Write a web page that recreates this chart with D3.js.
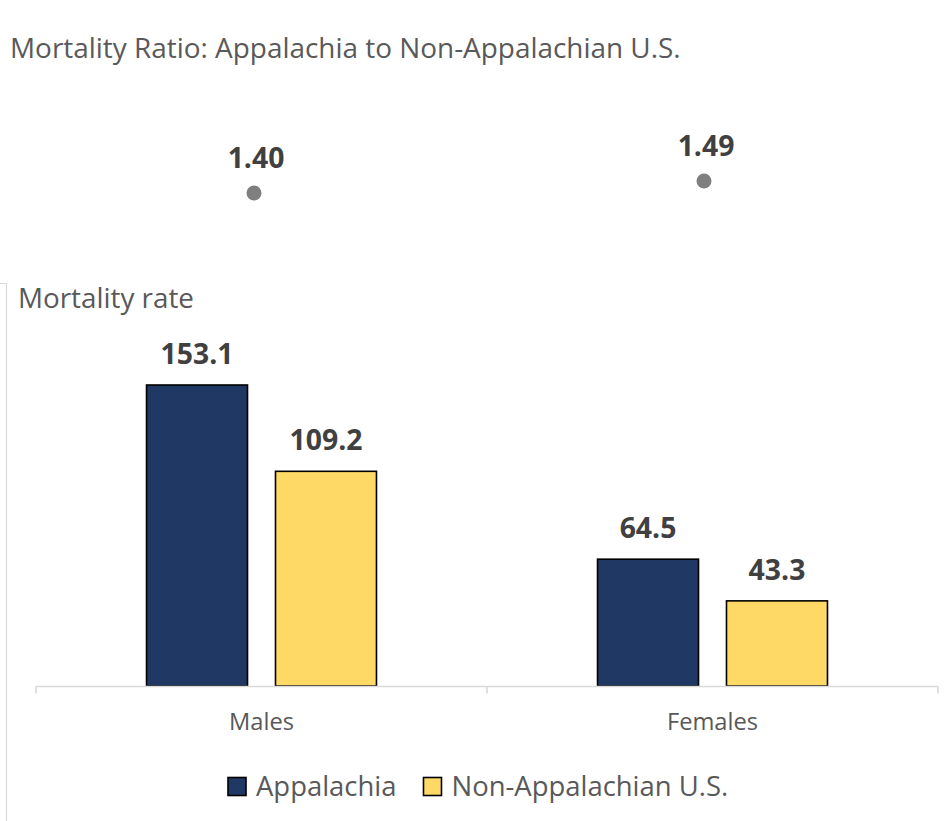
<!DOCTYPE html>
<meta charset="utf-8">
<script src="https://cdnjs.cloudflare.com/ajax/libs/d3/7.8.5/d3.min.js"></script>
<style>
  body { margin: 0; background: #fff; }
  svg { display: block; font-family: "Open Sans", "Noto Sans", sans-serif; }
</style>
<svg id="chart" width="948" height="821"></svg>
<script>
// data
const categories = ["Males", "Females"];
const series = ["Appalachia", "Non-Appalachian U.S."];
const appalachia = [153.1, 64.5];
const nonAppalachian = [109.2, 43.3];
const ratios = [1.40, 1.49];
const seriesColors = ["#203864", "#FFD966"];

const svg = d3.select("#chart");
const textGrey = "#595959";
const labelGrey = "#404040";
const lineGrey = "#d9d9d9";

// measure a string at 100px and return the size that gives the wanted width
function fitSize(str, target, weight) {
  const t = svg.append("text").attr("font-size", 100).attr("font-weight", weight || "normal").text(str);
  const w = t.node().getComputedTextLength();
  t.remove();
  return 100 * target / w;
}

const titleSize = fitSize("Mortality Ratio: Appalachia to Non-Appalachian U.S.", 671);
const rateSize = fitSize("Mortality rate", 176);
const legendSize = (fitSize("Appalachia", 139) + fitSize("Non-Appalachian U.S.", 280)) / 2;
const tickSize = fitSize("Males", 65);
const numSize = fitSize("153.1", 73, "bold");

// frame corner of the panel on the left
svg.append("path")
  .attr("d", "M0,283.5H6.5V821")
  .attr("fill", "none")
  .attr("stroke", lineGrey)
  .attr("stroke-width", 1.2);

// ---- top: ratio chart ----
svg.append("text")
  .attr("x", 10).attr("y", 58)
  .attr("font-size", titleSize)
  .attr("fill", textGrey)
  .text("Mortality Ratio: Appalachia to Non-Appalachian U.S.");

const xr = d3.scaleBand().domain(categories).range([29, 929]);
const yr = d3.scaleLinear().domain([1.2, 1.6]).range([219.7, 166.3]);

const dots = svg.append("g").selectAll("g")
  .data(categories.map((c, i) => ({ c, v: ratios[i] })))
  .join("g");

dots.append("circle")
  .attr("cx", d => xr(d.c) + xr.bandwidth() / 2)
  .attr("cy", d => yr(d.v))
  .attr("r", 7.5)
  .attr("fill", "#7f7f7f");

dots.append("text")
  .attr("x", d => xr(d.c) + xr.bandwidth() / 2 + 2)
  .attr("y", d => yr(d.v) - 25)
  .attr("text-anchor", "middle")
  .attr("font-size", numSize)
  .attr("font-weight", "bold")
  .attr("fill", labelGrey)
  .text(d => d.v.toFixed(2));

// ---- bottom: mortality rate bars ----
svg.append("text")
  .attr("x", 18).attr("y", 308)
  .attr("font-size", rateSize)
  .attr("fill", textGrey)
  .text("Mortality rate");

const baseY = 686;
const x0 = d3.scaleBand().domain(categories).range([36, 938]);
const x1 = d3.scaleBand().domain(series).range([0, x0.bandwidth()])
  .paddingInner(0.217).paddingOuter(0.857);
const y = d3.scaleLinear().domain([0, 160]).range([baseY, baseY - 160 * 1.966]);

const rows = categories.map((c, i) => ({
  c,
  vals: [
    { s: series[0], v: appalachia[i], col: seriesColors[0] },
    { s: series[1], v: nonAppalachian[i], col: seriesColors[1] }
  ]
}));

const groups = svg.append("g").selectAll("g")
  .data(rows)
  .join("g")
  .attr("transform", d => `translate(${x0(d.c)},0)`);

groups.selectAll("rect")
  .data(d => d.vals)
  .join("rect")
  .attr("x", d => x1(d.s))
  .attr("y", d => y(d.v))
  .attr("width", x1.bandwidth())
  .attr("height", d => baseY - y(d.v))
  .attr("fill", d => d.col)
  .attr("stroke", "#000")
  .attr("stroke-width", 1.6);

groups.selectAll("text.val")
  .data(d => d.vals)
  .join("text")
  .attr("class", "val")
  .attr("x", d => x1(d.s) + x1.bandwidth() / 2)
  .attr("y", d => y(d.v) - 21)
  .attr("text-anchor", "middle")
  .attr("font-size", numSize)
  .attr("font-weight", "bold")
  .attr("fill", labelGrey)
  .text(d => d.v.toFixed(1));

// category axis
const axis = svg.append("g")
  .attr("transform", `translate(0,${baseY + 0.5})`)
  .call(d3.axisBottom(x0).tickSize(0).tickPadding(27));
axis.select(".domain").remove();
axis.selectAll("text")
  .attr("font-family", "Open Sans, Noto Sans, sans-serif")
  .attr("font-size", tickSize)
  .attr("fill", textGrey);

const edges = x0.domain().map(c => x0(c)).concat([x0.range()[1]]);
axis.append("line")
  .attr("x1", x0.range()[0]).attr("x2", x0.range()[1])
  .attr("stroke", lineGrey).attr("stroke-width", 1.6);
axis.selectAll("line.edge")
  .data(edges)
  .join("line")
  .attr("class", "edge")
  .attr("x1", d => d).attr("x2", d => d)
  .attr("y1", 0).attr("y2", 7)
  .attr("stroke", lineGrey).attr("stroke-width", 1.6);

// legend
const legend = svg.append("g");
let lx = 228;
series.forEach((s, i) => {
  legend.append("rect")
    .attr("x", lx).attr("y", 777.5)
    .attr("width", 18).attr("height", 18)
    .attr("fill", seriesColors[i])
    .attr("stroke", "#000")
    .attr("stroke-width", 1.6);
  const t = legend.append("text")
    .attr("x", lx + 28).attr("y", 796)
    .attr("font-size", legendSize)
    .attr("fill", textGrey)
    .text(s);
  lx += 28 + t.node().getComputedTextLength() + 27;
});
</script>
